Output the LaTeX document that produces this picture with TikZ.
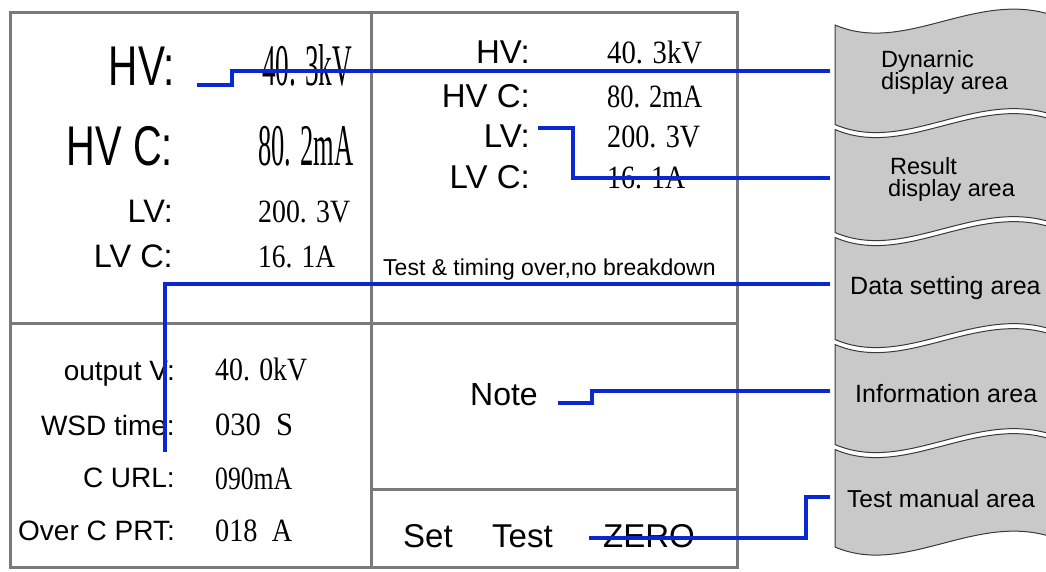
\documentclass[tikz,border=0pt]{standalone}
\usepackage{fontspec}
\usepackage{graphicx}
\setmainfont{Liberation Serif}
\newfontfamily\lsans{Liberation Sans}
\definecolor{lcdline}{HTML}{7A7A7A}
\definecolor{bluel}{HTML}{0A28D2}
\definecolor{tabfill}{HTML}{C9C9C9}
\definecolor{tabedge}{HTML}{3A3A3A}
\newcommand\fw[2]{\resizebox{#1pt}{\height}{#2}}
\newcommand\twolines[2]{{\lineskiplimit=-40pt\baselineskip=22pt\vtop{\hbox{#1}\hbox{#2}}}}
\newcommand\tabshp[2]{%
  \draw[tabshape] (835,#1) .. controls (905,#1+30) and (975,#1-35) .. (1052,#1-10)
     -- (1052,#2-10) .. controls (975,#2-35) and (905,#2+30) .. (835,#2) -- cycle;}
\tikzset{
  panel/.style={draw=lcdline, line width=3pt},
  conn/.style={draw=bluel, line width=4pt},
  tabshape/.style={fill=tabfill, draw=tabedge, line width=1pt},
  bigl/.style={anchor=base east, inner sep=0pt, font=\lsans\fontsize{56}{56}\selectfont},
  bigv/.style={anchor=base west, inner sep=0pt, font=\fontsize{59}{59}\selectfont},
  midl/.style={anchor=base east, inner sep=0pt, font=\lsans\fontsize{32.5}{34}\selectfont},
  rlab/.style={anchor=base east, inner sep=0pt, font=\lsans\fontsize{33}{35}\selectfont},
  midv/.style={anchor=base west, inner sep=0pt, font=\fontsize{32.5}{34}\selectfont},
  setl/.style={anchor=base east, inner sep=0pt, font=\lsans\fontsize{28}{30}\selectfont},
  btn/.style={anchor=base west, inner sep=0pt, font=\lsans\fontsize{33}{35}\selectfont},
  msgtxt/.style={anchor=base west, inner sep=0pt, font=\lsans\fontsize{23}{25}\selectfont},
  tabtxt/.style={anchor=base west, inner sep=0pt, font=\lsans\fontsize{23.5}{22}\selectfont},
}
\begin{document}
\begin{tikzpicture}[x=1pt,y=-1pt]
\useasboundingbox (0,0) rectangle (1046,571);
\fill[white] (0,0) rectangle (1046,571);

% LCD panel
\draw[panel] (10,12) rectangle (737,567);
\draw[panel] (371,12) -- (371,567);
\draw[panel] (10,323) -- (737,323);
\draw[panel] (371,489) -- (737,489);

% dynamic display area
\node[bigl] (hv1) at (175,85) {\fw{66}{HV:}};
\node[bigv] (hv1v) at (262,85) {\fw{90}{40. 3kV}};
\node[bigl] (hvc1) at (173,165) {\fw{106}{HV C:}};
\node[bigv] (hvc1v) at (258,165) {\fw{95}{80. 2mA}};
\node[midl] (lv1) at (173,222) {LV:};
\node[midv] (lv1v) at (258,222) {\fw{92}{200. 3V}};
\node[midl] (lvc1) at (173,267) {LV C:};
\node[midv] (lvc1v) at (258,267) {\fw{77}{16. 1A}};

% result display area
\node[rlab] (hv2) at (530,63) {HV:};
\node[midv] (hv2v) at (607,63) {\fw{95}{40. 3kV}};
\node[rlab] (hvc2) at (530,107) {HV C:};
\node[midv] (hvc2v) at (607,107) {\fw{95}{80. 2mA}};
\node[rlab] (lv2) at (530,147) {LV:};
\node[midv] (lv2v) at (607,147) {\fw{93}{200. 3V}};
\node[rlab] (lvc2) at (530,188) {LV C:};
\node[midv] (lvc2v) at (607,188) {\fw{78}{16. 1A}};
\node[msgtxt] (msg) at (383,275) {Test \& timing over,no breakdown};

% data setting area
\node[setl] (outv) at (175,380) {output V:};
\node[midv] (outvv) at (215,380) {\fw{92}{40. 0kV}};
\node[setl] (wsd) at (175,435) {WSD time:};
\node[midv] (wsdv) at (215,435) {\fw{78}{030\ \ S}};
\node[setl] (curl) at (175,487) {C URL:};
\node[midv] (curlv) at (215,489) {\fw{77}{090mA}};
\node[setl] (ocp) at (175,540) {Over C PRT:};
\node[midv] (ocpv) at (215,541) {\fw{77}{018\ \ A}};

% information / manual area
\node[btn, font=\lsans\fontsize{32}{34}\selectfont] (note) at (470,405) {Note};
\node[btn] (set) at (403,547) {Set};
\node[btn] (test) at (492,547) {Test};
\node[btn] (zero) at (603,547) {ZERO};

% tabs
\tabshp{25}{124.5}
\tabshp{129.5}{232.5}
\tabshp{237.5}{339.5}
\tabshp{344.5}{444.5}
\tabshp{449.5}{547}

\node[tabtxt] (tab1) at (881,67) {\twolines{Dynarnic}{display area}};
\node[tabtxt] (tab2) at (888,174) {\twolines{\hspace{2pt}Result}{display area}};
\node[tabtxt, font=\lsans\fontsize{25}{26}\selectfont] (tab3) at (850,294) {Data setting area};
\node[tabtxt, font=\lsans\fontsize{25}{26}\selectfont] (tab4) at (855,402) {Information area};
\node[tabtxt, font=\lsans\fontsize{24.5}{26}\selectfont] (tab5) at (847,507) {Test manual area};

% connectors
\coordinate (a1) at (197,85);  \coordinate (t1) at (830,71);
\coordinate (a2) at (538,128); \coordinate (t2) at (830,178);
\coordinate (a3) at (165,452); \coordinate (t3) at (830,284);
\coordinate (a4) at (558,403); \coordinate (t4) at (830,391);
\coordinate (a5) at (589,538); \coordinate (t5) at (830,497);
\draw[conn] (a1) -- ++(35,0) |- (t1);
\draw[conn] (a2) -- ++(35,0) |- (t2);
\draw[conn] (t3) -| (a3);
\draw[conn] (a4) -- ++(34,0) |- (t4);
\draw[conn] (a5) -- (806,538) |- (t5);
\end{tikzpicture}
\end{document}
